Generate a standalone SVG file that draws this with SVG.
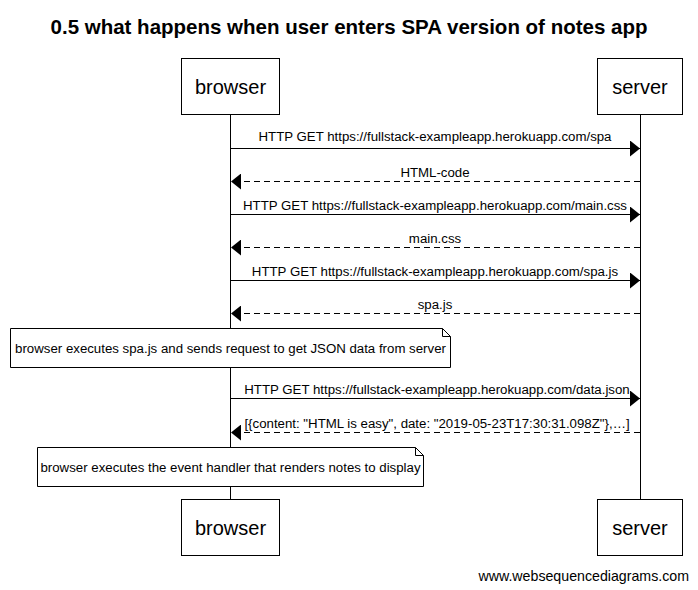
<svg xmlns="http://www.w3.org/2000/svg" width="698" height="590" viewBox="0 0 698 590">
<style>
text{font-family:"Liberation Sans",Arial,sans-serif;fill:#000}
.title{font-size:20.5px;font-weight:bold;text-anchor:middle}
.actor rect{fill:#fff;stroke:#000;stroke-width:1}
.actor text{font-size:20px;text-anchor:middle}
.life{stroke:#000;stroke-width:1}
.msg{stroke:#000;stroke-width:1;fill:none}
.dash{stroke-dasharray:6,4}
.lbl{font-size:13.25px;text-anchor:middle}
.note path{fill:#fff;stroke:#000;stroke-width:1}
.note text{font-size:13.25px;text-anchor:middle}
.wm{font-size:14.2px;text-anchor:end;fill:#000}
</style>
<defs>
<marker id="ah" viewBox="0 0 10 16" refX="10" refY="8" markerWidth="10" markerHeight="16" markerUnits="userSpaceOnUse" orient="auto">
<path d="M0,0 L10,8 L0,16 Z" fill="#000"/>
</marker>
</defs>
<rect width="698" height="590" fill="#fff"/>
<text class="title" x="349" y="34">0.5 what happens when user enters SPA version of notes app</text>
<g id="lifelines">
<line class="life" x1="230.5" y1="114" x2="230.5" y2="499"/>
<line class="life" x1="640.5" y1="114" x2="640.5" y2="499"/>
</g>
<g id="browser" class="actor">
<rect x="181.5" y="58.5" width="98" height="56"/>
<text x="230.5" y="94">browser</text>
</g>
<g id="server" class="actor">
<rect x="597.5" y="58.5" width="85" height="56"/>
<text x="640" y="94">server</text>
</g>
<g id="browser-bottom" class="actor">
<rect x="181.5" y="499.5" width="98" height="56"/>
<text x="230.5" y="535">browser</text>
</g>
<g id="server-bottom" class="actor">
<rect x="597.5" y="499.5" width="85" height="56"/>
<text x="640" y="535">server</text>
</g>
<g id="connectors">
<line class="msg" x1="231" y1="148.5" x2="640" y2="148.5" marker-end="url(#ah)"/>
<text class="lbl" x="435" y="141">HTTP GET https://fullstack-exampleapp.herokuapp.com/spa</text>
<line class="msg dash" x1="640" y1="181.5" x2="231" y2="181.5" marker-end="url(#ah)"/>
<text class="lbl" x="435" y="177">HTML-code</text>
<line class="msg" x1="231" y1="214.5" x2="640" y2="214.5" marker-end="url(#ah)"/>
<text class="lbl" x="435" y="210">HTTP GET https://fullstack-exampleapp.herokuapp.com/main.css</text>
<line class="msg dash" x1="640" y1="247.5" x2="231" y2="247.5" marker-end="url(#ah)"/>
<text class="lbl" x="435" y="243">main.css</text>
<line class="msg" x1="231" y1="280.5" x2="640" y2="280.5" marker-end="url(#ah)"/>
<text class="lbl" x="435" y="276">HTTP GET https://fullstack-exampleapp.herokuapp.com/spa.js</text>
<line class="msg dash" x1="640" y1="313.5" x2="231" y2="313.5" marker-end="url(#ah)"/>
<text class="lbl" x="435" y="309">spa.js</text>
<line class="msg" x1="231" y1="398.5" x2="640" y2="398.5" marker-end="url(#ah)"/>
<text class="lbl" x="437" y="394">HTTP GET https://fullstack-exampleapp.herokuapp.com/data.json</text>
<line class="msg dash" x1="640" y1="432.5" x2="231" y2="432.5" marker-end="url(#ah)"/>
<text class="lbl" x="437" y="428">[{content: "HTML is easy", date: "2019-05-23T17:30:31.098Z"},…]</text>
</g>
<g id="note1" class="note">
<path d="M10.5,328.5 H442.5 L450.5,336.5 V367.5 H10.5 Z M442.5,328.5 V336.5 H450.5"/>
<text x="230.5" y="353">browser executes spa.js and sends request to get JSON data from server</text>
</g>
<g id="note2" class="note">
<path d="M37.5,447.5 H415.5 L423.5,455.5 V486.5 H37.5 Z M415.5,447.5 V455.5 H423.5"/>
<text x="230.5" y="472">browser executes the event handler that renders notes to display</text>
</g>
<text class="wm" x="689" y="581">www.websequencediagrams.com</text>
</svg>
